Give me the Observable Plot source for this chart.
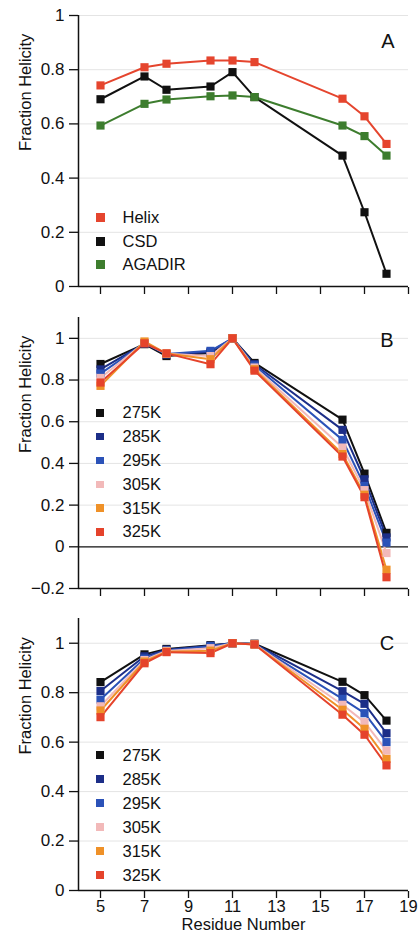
<!DOCTYPE html>
<html><head><meta charset="utf-8">
<script src="https://cdn.jsdelivr.net/npm/d3@7"></script>
<script src="https://cdn.jsdelivr.net/npm/@observablehq/plot@0.6"></script>
<style>
body{margin:0;background:#fff;font-family:"Liberation Sans",Arial,Helvetica,sans-serif;color:#111}
#chart{position:relative;width:419px;height:940px;overflow:hidden}
#chart svg{display:block}
.legend{position:absolute;font-size:16.5px;color:#111}
.legend .row{display:flex;align-items:center}
.legend .sw{flex:none}
.letter{position:absolute;font-size:20px;line-height:20px;transform:translateX(-50%)}
</style></head><body><div id="chart"></div>
<script>
// ---------- data ----------
const residues = [5, 7, 8, 10, 11, 12, 16, 17, 18];

// Panel A
const seriesA = ["Helix", "CSD", "AGADIR"];
const colorsA = ["#e5452e", "#111111", "#3d7d2e"];
const helix  = [0.742, 0.809, 0.822, 0.834, 0.834, 0.828, 0.693, 0.628, 0.526];
const csd    = [0.691, 0.775, 0.726, 0.738, 0.791, 0.699, 0.483, 0.274, 0.047];
const agadir = [0.594, 0.674, 0.690, 0.702, 0.705, 0.699, 0.594, 0.555, 0.483];

// Temperatures (panels B and C)
const temps = ["275K", "285K", "295K", "305K", "315K", "325K"];
const tempColors = ["#111111", "#1c2e88", "#2b52b8", "#f2b9b9", "#ef9128", "#e5432b"];

// Panel B
const b275 = [0.877, 0.972, 0.915, 0.930, 1.000, 0.882, 0.610, 0.351, 0.067];
const b285 = [0.851, 0.975, 0.922, 0.935, 1.000, 0.876, 0.561, 0.324, 0.045];
const b295 = [0.831, 0.977, 0.925, 0.940, 1.000, 0.870, 0.513, 0.292, 0.020];
const b305 = [0.810, 0.980, 0.926, 0.915, 1.000, 0.860, 0.476, 0.272, -0.030];
const b315 = [0.772, 0.985, 0.927, 0.900, 1.000, 0.852, 0.445, 0.250, -0.110];
const b325 = [0.788, 0.976, 0.928, 0.876, 1.000, 0.845, 0.433, 0.238, -0.146];

// Panel C
const c275 = [0.843, 0.955, 0.977, 0.992, 1.000, 0.998, 0.844, 0.790, 0.687];
const c285 = [0.807, 0.947, 0.974, 0.990, 1.000, 0.997, 0.806, 0.755, 0.636];
const c295 = [0.772, 0.938, 0.971, 0.988, 1.000, 0.996, 0.775, 0.717, 0.600];
const c305 = [0.745, 0.932, 0.969, 0.980, 1.000, 0.996, 0.751, 0.681, 0.566];
const c315 = [0.728, 0.926, 0.966, 0.970, 1.000, 0.995, 0.731, 0.654, 0.532];
const c325 = [0.701, 0.919, 0.964, 0.960, 1.000, 0.995, 0.711, 0.630, 0.506];

const xDomain = [4, 19];
const xTicks = [5, 7, 9, 11, 13, 15, 17, 19];
const yDomainA = [0, 1];
const yTicksA = [0, 0.2, 0.4, 0.6, 0.8, 1];
const yDomainB = [-0.2, 1.1];
const yTicksB = [-0.2, 0, 0.2, 0.4, 0.6, 0.8, 1];
const yDomainC = [0, 1.1];
const yTicksC = [0, 0.2, 0.4, 0.6, 0.8, 1];

// ---------- drawing ----------
const font = '"Liberation Sans", Arial, Helvetica, sans-serif';
const yFmt = d3.format("~g");

function toRows(names, valueArrays) {
  return names.flatMap((name, k) => residues.map((r, i) => ({residue: r, value: valueArrays[k][i], name})));
}

function panel({names, colors, values, yDomain, yTicks, marginTop, marginBottom, frameH, xLabels, zero}) {
  const rows = toRows(names, values);
  const gridTicks = yTicks.filter(t => t !== yDomain[0] && !(zero && t === 0));
  const marks = [Plot.gridY(gridTicks, {stroke: "#e4e4e4", strokeOpacity: 1})];
  if (zero) marks.push(Plot.ruleY([0], {stroke: "#111", strokeWidth: 1.3}));
  marks.push(
    Plot.axisY({ticks: yTicks, tickSize: 9, tickPadding: 5, fontSize: 17, stroke: "#111", strokeWidth: 1.3,
                tickFormat: yFmt, label: null}),
    Plot.axisX({ticks: xTicks, tickSize: 7, dy: 1, tickPadding: 2, fontSize: 16.5, stroke: "#111", strokeWidth: 1.3,
                tickFormat: xLabels ? (d => String(d)) : (() => ""), label: null}),
    Plot.ruleX([xDomain[0]], {stroke: "#111", strokeWidth: 1.5}),
    Plot.ruleY([yDomain[0]], {stroke: "#111", strokeWidth: 1.5}),
    Plot.line(rows, {x: "residue", y: "value", z: "name", stroke: "name", strokeWidth: 2}),
    Plot.dot(rows, {x: "residue", y: "value", fill: "name", symbol: "square", r: 4.6, stroke: null}),
    Plot.text(["Fraction Helicity"], {frameAnchor: "left", text: d => d, rotate: -90, dx: -53, fontSize: 16.5})
  );
  if (xLabels) marks.push(Plot.text(["Residue Number"], {frameAnchor: "bottom", text: d => d, dy: 39.5, fontSize: 16.5}));
  return Plot.plot({
    width: 419,
    height: marginTop + frameH + marginBottom,
    marginTop, marginBottom, marginLeft: 78, marginRight: 11,
    style: {fontFamily: font, fontSize: "17px", color: "#111", background: "transparent", overflow: "visible"},
    x: {domain: xDomain, axis: null},
    y: {domain: yDomain, axis: null},
    color: {domain: names, range: colors},
    marks
  });
}

const chart = document.getElementById("chart");
chart.append(
  panel({names: seriesA, colors: colorsA, values: [helix, csd, agadir],
         yDomain: yDomainA, yTicks: yTicksA, marginTop: 15, frameH: 271, marginBottom: 15, xLabels: false, zero: false}),
  panel({names: temps, colors: tempColors, values: [b275, b285, b295, b305, b315, b325],
         yDomain: yDomainB, yTicks: yTicksB, marginTop: 16, frameH: 271, marginBottom: 14, xLabels: false, zero: true}),
  panel({names: temps, colors: tempColors, values: [c275, c285, c295, c305, c315, c325],
         yDomain: yDomainC, yTicks: yTicksC, marginTop: 16, frameH: 272, marginBottom: 50, xLabels: true, zero: false})
);

function legend(names, colors, top, rowH, sw) {
  const div = document.createElement("div");
  div.className = "legend";
  div.style.left = (100 - sw / 2) + "px";
  div.style.top = top + "px";
  names.forEach((n, i) => {
    const row = document.createElement("div");
    row.className = "row";
    row.style.height = rowH + "px";
    const s = document.createElement("span");
    s.className = "sw";
    s.style.width = sw + "px"; s.style.height = sw + "px";
    s.style.background = colors[i];
    s.style.marginRight = (122.5 - (100 + sw / 2)) + "px";
    const t = document.createElement("span");
    t.textContent = n;
    row.append(s, t);
    div.append(row);
  });
  chart.append(div);
}
legend(seriesA, colorsA, 206, 23.6, 9);
legend(temps, tempColors, 401, 23.8, 7.5);
legend(temps, tempColors, 743, 24, 7.5);

function letter(txt, x, top) {
  const d = document.createElement("div");
  d.className = "letter";
  d.textContent = txt;
  d.style.left = x + "px";
  d.style.top = top + "px";
  chart.append(d);
}
letter("A", 388, 31);
letter("B", 387, 330);
letter("C", 387, 633);
</script></body></html>
